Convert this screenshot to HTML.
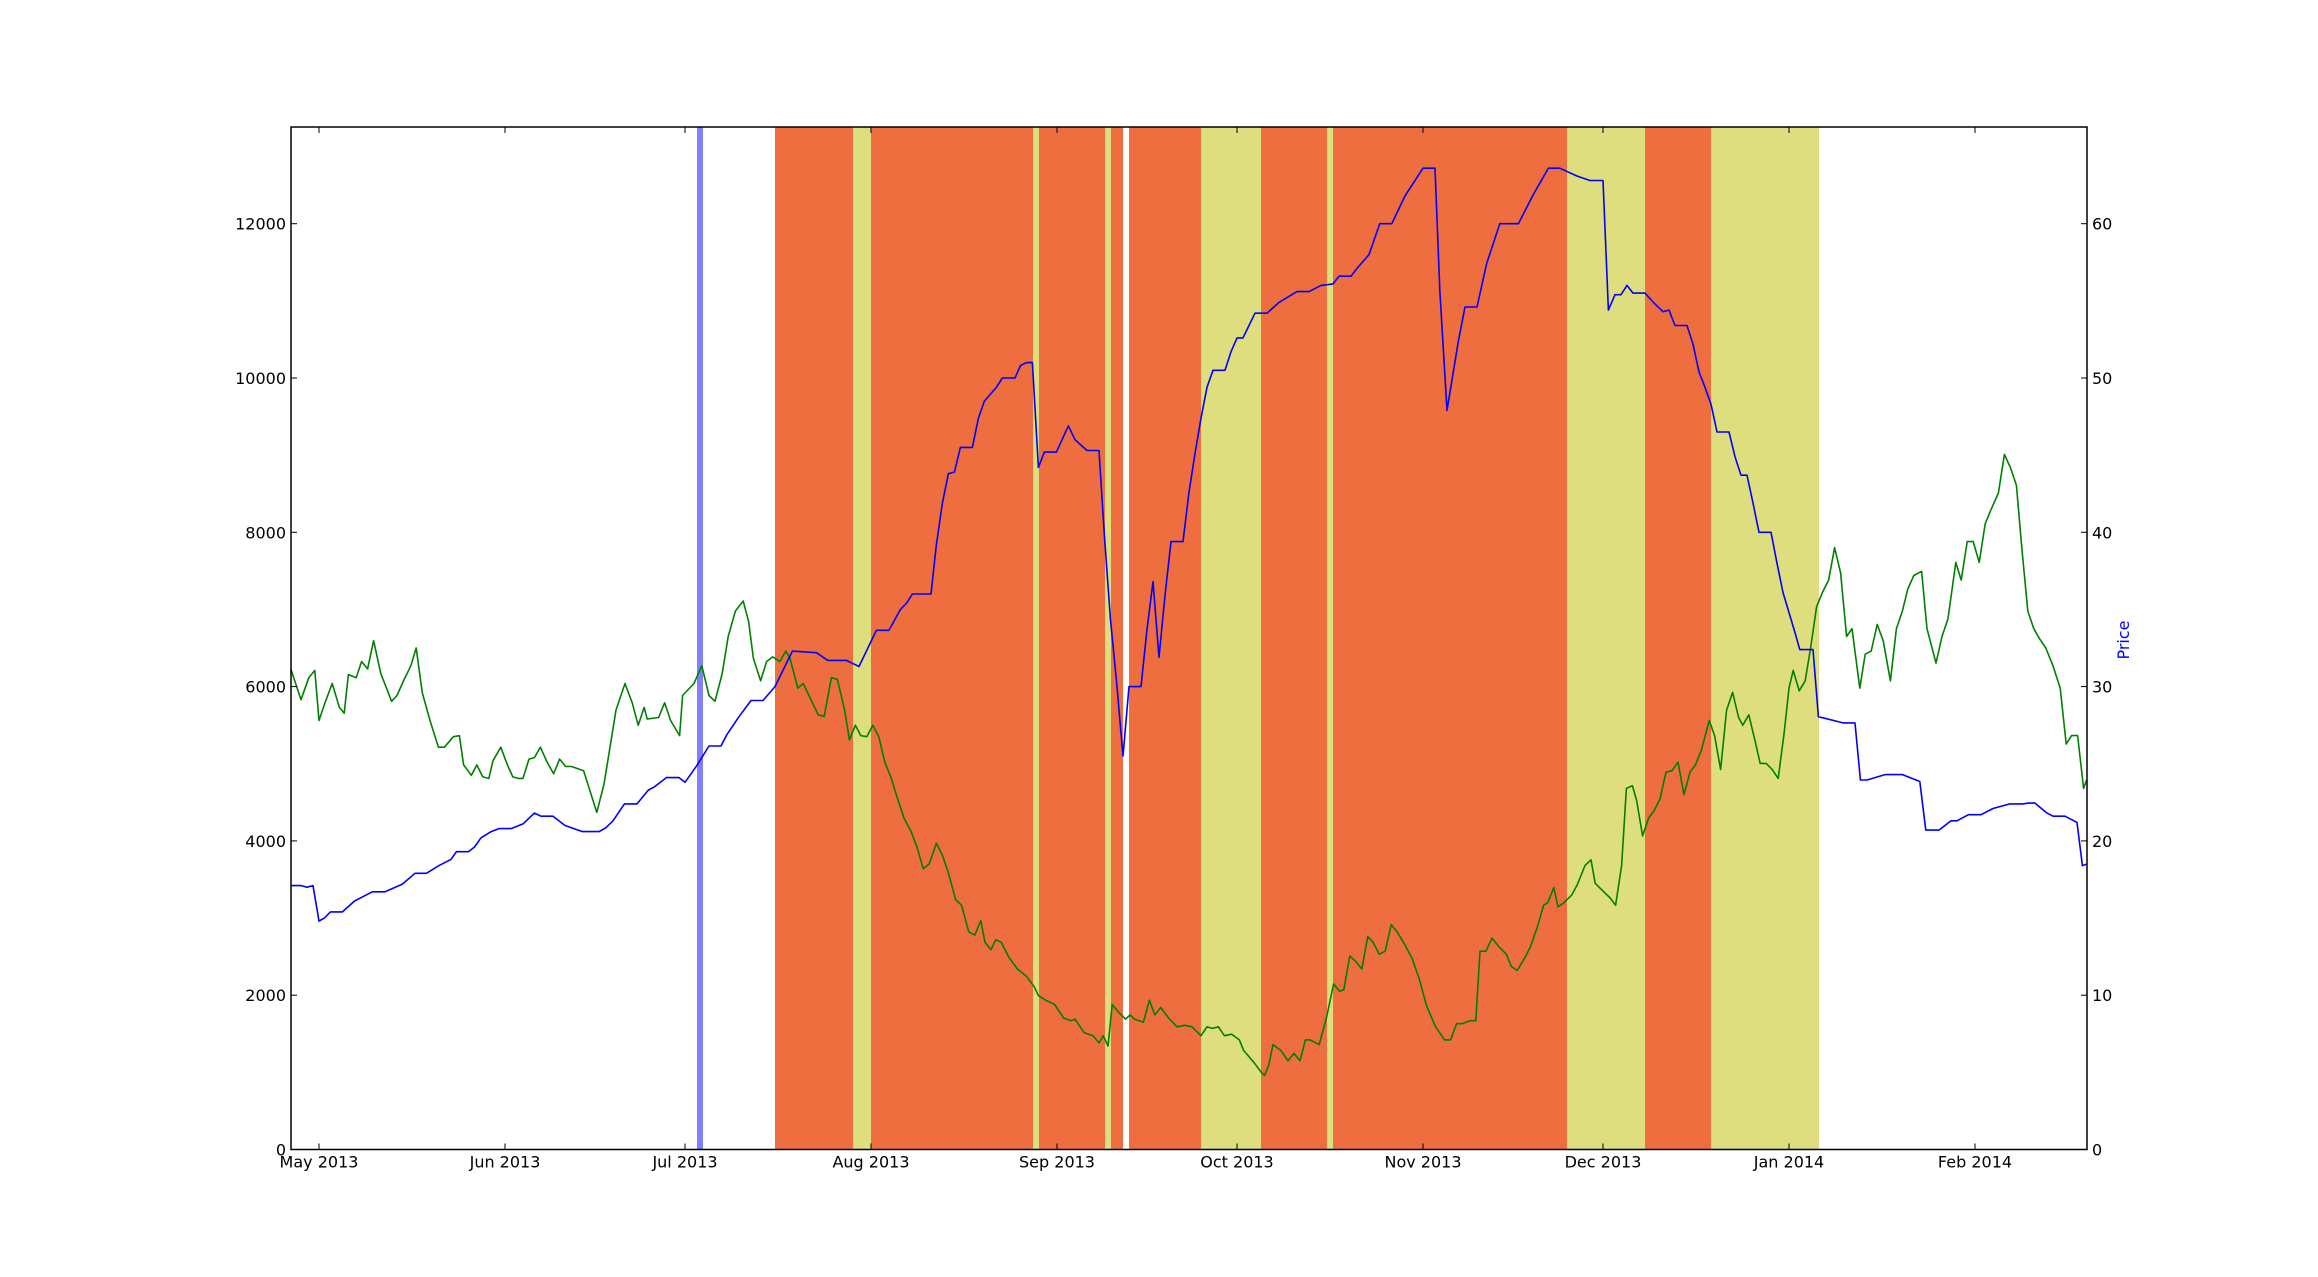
<!DOCTYPE html>
<html><head><meta charset="utf-8"><style>
html,body{margin:0;padding:0;background:#fff;}
svg{display:block;font-family:"DejaVu Sans","Liberation Sans",sans-serif;}
</style></head><body>
<svg id="chart" width="2318" height="1277" viewBox="0 0 2318 1277" xmlns="http://www.w3.org/2000/svg">
<rect x="0" y="0" width="2318" height="1277" fill="#fff"/>
<g id="spans"></g>
<g id="lines"></g>
<g id="axes"></g>
</svg>
<script>
// days counted from 2013-05-01
const spanStart = [63, 76, 89, 92, 119, 120, 131, 132, 134, 135, 147, 157, 168, 169, 208, 221, 232];
const spanEnd   = [64, 89, 92, 119, 120, 131, 132, 134, 135, 147, 157, 168, 169, 208, 221, 232, 250];
const spanType  = ['marker','red','yellow','red','yellow','red','yellow','red','gap','red','yellow','red','yellow','red','yellow','red','yellow'];

const greenDays = [-4.7,-3,-1.7,-0.7,0,1,2.2,3.4,4.2,4.9,6.2,7.1,8.1,9.1,10.3,12.1,13,14,15.3,16.2,17.2,18.5,19.9,20.9,22.4,23.4,24.1,25.4,26.3,27.3,28.3,29,30.3,31.3,32.3,33.2,34,35,35.9,36.9,37.9,39.1,40.1,41.1,42.1,44.1,46.3,47.5,48.5,49.5,51,52.2,53.2,54.2,54.7,56.6,57.6,58.6,60.1,60.6,62.5,63.8,65,66,67.2,68.2,69.4,70.7,71.6,72.4,73.6,74.6,75.6,76.8,77.8,78.5,79.8,80.7,82,83.2,84.2,85.4,86.4,87.6,88.4,89.4,90.3,91.3,92.3,93.3,94.3,95.3,96.3,97.5,98.7,99.7,100.7,101.7,102.9,103.9,104.9,106.1,107.1,108.3,109.3,110.3,111,112,112.8,113.7,115,116.4,117.9,119.2,119.9,121.1,122.6,124.1,125.3,126,127.5,129,130,130.7,131.5,132.2,133.2,134.4,135.2,135.9,137.4,138.4,139.3,140.3,141.6,143,144.3,145.5,147,148,148.9,149.9,150.9,152.1,153.4,154.1,155.8,157.1,157.6,158.3,159,160.3,161.5,162.5,163.5,164.4,165.2,166.7,167.9,169.1,170.1,170.8,171.8,172.8,173.8,174.8,175.7,176.7,177.7,178.7,179.7,180.9,182.2,183.4,184.6,186.1,187.6,188.6,189.6,190.5,191.8,192.8,193.5,194.5,195.5,196.7,197.9,198.7,199.7,200.9,201.9,203.1,204.1,204.8,205.8,206.5,207.5,208.8,209.7,211,212,212.7,214.2,215.2,216.1,217.1,217.9,218.9,219.6,220.6,221.6,222.5,223.5,224.5,225.5,226.5,227.5,228.5,229.4,230.4,231.7,232.6,233.6,234.6,235.6,236.6,237.3,238.3,239.3,240.2,241.2,242.2,243.2,244.2,245,245.7,246.7,247.7,248.6,249.6,250.6,251.6,252.6,253.6,254.6,255.5,256.8,257.7,258.7,259.7,260.7,261.9,262.9,263.9,264.8,265.8,267.1,268,269.5,270.5,271.5,272.8,273.7,274.7,275.7,276.7,277.7,278.7,279.9,280.9,281.9,282.9,283.8,284.8,285.8,286.8,287.8,289,290.2,291.2,292.1,293.1,294.1,294.6];
const greenVals = [6230,5830,6115,6210,5560,5790,6040,5730,5655,6155,6115,6325,6230,6595,6170,5810,5885,6060,6270,6500,5925,5560,5215,5215,5350,5365,4985,4850,4985,4830,4810,5040,5215,5005,4830,4810,4810,5060,5080,5215,5040,4870,5060,4965,4965,4910,4370,4735,5215,5695,6040,5790,5500,5730,5580,5600,5790,5560,5365,5885,6040,6270,5885,5810,6170,6650,6980,7110,6845,6365,6075,6325,6385,6325,6460,6365,5980,6040,5830,5635,5615,6115,6095,5695,5310,5500,5365,5350,5500,5350,5020,4830,4580,4295,4120,3910,3640,3700,3970,3815,3585,3240,3165,2820,2780,2970,2685,2590,2720,2685,2490,2340,2245,2110,1995,1935,1880,1705,1670,1690,1515,1475,1380,1475,1340,1880,1785,1690,1745,1690,1650,1935,1745,1840,1705,1590,1610,1590,1475,1590,1570,1590,1475,1495,1420,1285,1130,995,960,1095,1360,1285,1150,1245,1150,1420,1420,1360,1705,2145,2050,2070,2510,2435,2340,2760,2685,2530,2570,2915,2820,2665,2475,2205,1860,1590,1420,1420,1630,1630,1670,1670,2570,2570,2740,2625,2530,2375,2320,2475,2625,2895,3165,3200,3395,3145,3200,3300,3430,3680,3755,3450,3335,3260,3165,3680,4680,4715,4525,4065,4295,4390,4545,4890,4910,5020,4600,4890,4985,5175,5560,5365,4925,5695,5925,5600,5500,5635,5310,5005,5005,4925,4810,5405,5980,6210,5945,6075,6500,7035,7225,7380,7800,7475,6650,6750,5980,6420,6460,6805,6595,6075,6750,6980,7265,7440,7495,6750,6305,6650,6880,7610,7380,7880,7880,7610,8110,8300,8510,9010,8840,8610,7800,6980,6750,6615,6500,6270,5980,5255,5365,5365,4680,4790];

const blueDays = [-4.7,-3,-2,-1,0,0.9,1.9,3.9,5.9,8.9,11,13.9,16,17.9,20,22,22.9,24.9,25.9,27,28.7,30,32,34,35.9,37,39,41,43.9,46.7,47.8,49,50.9,53,54.9,55.9,57.9,60,61,63,65,67,68,70,72,74,76,78.9,82.9,84.8,87.9,90,92.9,95,96.9,97.9,98.9,102,102.9,103.9,104.9,105.9,106.9,108.9,109.9,110.9,112.9,113.9,116,116.9,117.9,118.9,119.9,120.9,122.9,124.9,126,128,130,130.9,131.9,133,134,135,137,138,139,140,141,142,144,145,146,147,148,149,151,152,153,154,156,158,160,163,165,167,169,170,172,173,175,176.8,178.8,181,184,186,186.8,188,189.9,191,193,194.6,196.8,199.9,202.4,204.9,206.8,209.6,211.8,214,214.9,216,217,218,219,221,222.4,224,225,226,228,229,230,231,232,233,235,236,237,238,239,240,242,243,244,246,246.8,249,249.9,254,256,256.9,258,261,263.9,266.8,267.8,270,272,273,274.9,277,279,281.8,284,284.9,286,288,289,291,293,293.9,294.7];
const blueVals = [17.1,17.1,17.0,17.1,14.8,15.0,15.4,15.4,16.1,16.7,16.7,17.2,17.9,17.9,18.4,18.8,19.3,19.3,19.6,20.2,20.6,20.8,20.8,21.1,21.8,21.6,21.6,21.0,20.6,20.6,20.85,21.3,22.4,22.4,23.3,23.5,24.1,24.1,23.8,24.9,26.15,26.15,26.9,28.05,29.1,29.1,30.0,32.3,32.2,31.7,31.7,31.3,33.65,33.65,35.0,35.4,36.0,36.0,39.2,41.9,43.8,43.9,45.5,45.5,47.4,48.5,49.4,50.0,50.0,50.8,51.0,51.0,44.2,45.2,45.2,46.9,46.0,45.3,45.3,39.8,34.4,30.0,25.5,30.0,30.0,33.7,36.8,31.9,35.9,39.4,39.4,42.6,45.1,47.4,49.4,50.5,50.5,51.7,52.6,52.6,54.2,54.2,54.9,55.6,55.6,56.0,56.1,56.6,56.6,57.1,58.0,60.0,60.0,61.8,63.6,63.6,55.7,47.9,52.4,54.6,54.6,57.4,60.0,60.0,61.9,63.6,63.6,63.1,62.8,62.8,54.4,55.4,55.4,56.0,55.5,55.5,54.9,54.3,54.4,53.4,53.4,52.2,50.4,49.4,48.3,46.5,46.5,44.9,43.7,43.7,41.9,40.0,40.0,38.0,36.1,33.5,32.4,32.4,28.05,27.65,27.65,23.95,23.95,24.3,24.3,23.85,20.7,20.7,21.3,21.3,21.7,21.7,22.1,22.4,22.4,22.45,22.45,21.8,21.6,21.6,21.2,18.4,18.5];

const xTickDays   = [0, 31, 61, 92, 123, 153, 184, 214, 245, 276];
const xTickLabels = ['May 2013','Jun 2013','Jul 2013','Aug 2013','Sep 2013','Oct 2013','Nov 2013','Dec 2013','Jan 2014','Feb 2014'];
const leftTicks  = [0, 2000, 4000, 6000, 8000, 10000, 12000];
const rightTicks = [0, 10, 20, 30, 40, 50, 60];

const L = 291, R = 2087, T = 127, B = 1149.5;
const xOf = d => 319 + 6 * d;
const yLeft = v => B - v / 2000 * 154.3;
const yRight = p => B - p * 15.43;
const NS = 'http://www.w3.org/2000/svg';
function mk(tag, attrs, parent) {
  const e = document.createElementNS(NS, tag);
  for (const k in attrs) e.setAttribute(k, attrs[k]);
  parent.appendChild(e);
  return e;
}
const colors = {red: '#ee6e40', yellow: '#dede7e', marker: '#8080ff', gap: '#ffffff'};
const gS = document.getElementById('spans');
for (let i = 0; i < spanStart.length; i++) {
  const x0 = Math.max(L, xOf(spanStart[i])), x1 = Math.min(R, xOf(spanEnd[i]));
  const r = mk('rect', {x: x0, y: T, width: x1 - x0, height: B - T, fill: colors[spanType[i]]}, gS);
  
  
}
const gL = document.getElementById('lines');
let gp = greenDays.map((d, i) => xOf(d).toFixed(1) + ',' + yLeft(greenVals[i]).toFixed(1)).join(' ');
const gLine = mk('polyline', {points: gp, fill: 'none', stroke: '#008000', 'stroke-width': 1.6, 'stroke-linejoin': 'round'}, gL);


let bp = blueDays.map((d, i) => xOf(d).toFixed(1) + ',' + yRight(blueVals[i]).toFixed(1)).join(' ');
const bLine = mk('polyline', {points: bp, fill: 'none', stroke: '#0000ff', 'stroke-width': 1.6, 'stroke-linejoin': 'round'}, gL);



const gA = document.getElementById('axes');
const frame = mk('rect', {x: L, y: T, width: R - L, height: B - T, fill: 'none', stroke: '#000', 'stroke-width': 1.5}, gA);


xTickDays.forEach((d, i) => {
  const x = xOf(d);
  mk('line', {x1: x, y1: B, x2: x, y2: B - 6, stroke: '#000', 'stroke-width': 1}, gA);
  mk('line', {x1: x, y1: T, x2: x, y2: T + 6, stroke: '#000', 'stroke-width': 1}, gA);
  const t = mk('text', {x: x, y: B + 18, 'font-size': 16, 'text-anchor': 'middle', fill: '#000'}, gA);
  t.textContent = xTickLabels[i];
  
  
});
leftTicks.forEach(v => {
  const y = yLeft(v);
  mk('line', {x1: L, y1: y, x2: L + 6, y2: y, stroke: '#000', 'stroke-width': 1}, gA);
  const t = mk('text', {x: L - 5, y: y + 6, 'font-size': 16, 'text-anchor': 'end', fill: '#000'}, gA);
  t.textContent = v;
  
  
});
rightTicks.forEach(v => {
  const y = yRight(v);
  mk('line', {x1: R, y1: y, x2: R - 6, y2: y, stroke: '#000', 'stroke-width': 1}, gA);
  const t = mk('text', {x: R + 5, y: y + 6, 'font-size': 16, 'text-anchor': 'start', fill: '#000'}, gA);
  t.textContent = v;
  
  
});
const pl = mk('text', {x: 2129, y: 640, 'font-size': 16, 'text-anchor': 'middle', fill: '#0000ff', transform: 'rotate(-90 2129 640)'}, gA);
pl.textContent = 'Price';


</script>
</body></html>
